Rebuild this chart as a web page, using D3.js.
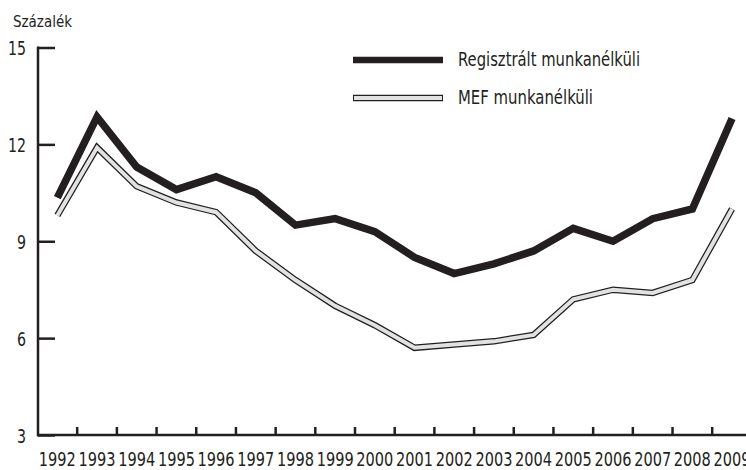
<!DOCTYPE html>
<html><head><meta charset="utf-8">
<script src="https://cdn.jsdelivr.net/npm/d3@7"></script>
<style>
html,body{margin:0;padding:0;background:#fff;}
text{font-family:"DejaVu Sans","Liberation Sans",sans-serif;font-stretch:condensed;fill:#231f20;}
</style></head>
<body>
<svg id="c" width="746" height="470"></svg>
<script>
const years = ["1992","1993","1994","1995","1996","1997","1998","1999","2000","2001","2002","2003","2004","2005","2006","2007","2008","2009"];
const registered = [10.35,12.85,11.3,10.6,11.0,10.5,9.5,9.7,9.3,8.5,8.0,8.3,8.7,9.4,9.0,9.7,10.0,12.8];
const mef = [9.8,11.9,10.7,10.2,9.9,8.7,7.8,7.0,6.4,5.7,5.8,5.9,6.1,7.2,7.5,7.4,7.8,10.0];
const yTicks = [3,6,9,12,15];
const seriesNames = ["Regisztrált munkanélküli","MEF munkanélküli"];
const yTitle = "Százalék";

const svg = d3.select("#c");
const ink = "#231f20";
const x = d3.scaleBand().domain(years).range([37.5, 751.9]);
const y = d3.scaleLinear().domain([3,15]).range([435, 47.5]);
const cx = d => x(d) + x.bandwidth()/2;

function fit(sel, w){ sel.attr("textLength", w).attr("lengthAdjust","spacingAndGlyphs"); return sel; }

// y title
fit(svg.append("text").attr("x",13).attr("y",27).attr("font-size",16).text(yTitle), 59);

// y axis
const gy = svg.append("g").attr("transform","translate(38,0)")
  .call(d3.axisRight(y).tickValues(yTicks).tickSize(17).tickFormat(""));
gy.select(".domain").remove();
gy.selectAll(".tick line").attr("stroke",ink).attr("stroke-width",2.5);
svg.append("line").attr("x1",38).attr("x2",38).attr("y1",y(15)-1).attr("y2",y(3)+1.2)
  .attr("stroke",ink).attr("stroke-width",2.5);
const yl = svg.selectAll(".ylab").data(yTicks).enter().append("text")
  .attr("x",26).attr("y",d=>y(d)+7.5).attr("text-anchor","end").attr("font-size",20).text(d=>d);
yl.filter(d=>d>=10).call(s=>fit(s,18));
yl.filter(d=>d<10).call(s=>fit(s,9));

// x axis
svg.append("line").attr("x1",37).attr("x2",752).attr("y1",y(3)).attr("y2",y(3))
  .attr("stroke",ink).attr("stroke-width",2.5);
const inner = years.slice(1);
svg.selectAll(".xt").data(inner).enter().append("line")
  .attr("x1",d=>x(d)).attr("x2",d=>x(d)).attr("y1",y(3)).attr("y2",y(3)-8)
  .attr("stroke",ink).attr("stroke-width",2.5);
svg.selectAll(".xlab").data(years).enter().append("text")
  .attr("x",d=>cx(d)).attr("y",466).attr("text-anchor","middle").attr("font-size",19).text(d=>d)
  .call(s=>fit(s,37));

const line = d3.line().x((d,i)=>cx(years[i])).y(d=>y(d));

// MEF line (outlined light grey)
svg.append("path").datum(mef).attr("d",line).attr("fill","none")
  .attr("stroke",ink).attr("stroke-width",6.5).attr("stroke-linejoin","miter");
svg.append("path").datum(mef).attr("d",line).attr("fill","none")
  .attr("stroke","#e2e2e2").attr("stroke-width",4).attr("stroke-linejoin","miter");
// Registered line
svg.append("path").datum(registered).attr("d",line).attr("fill","none")
  .attr("stroke",ink).attr("stroke-width",7.5).attr("stroke-linejoin","miter");

// legend
svg.append("line").attr("x1",353).attr("x2",443).attr("y1",60).attr("y2",60)
  .attr("stroke",ink).attr("stroke-width",6.5);
svg.append("line").attr("x1",353).attr("x2",443).attr("y1",98).attr("y2",98)
  .attr("stroke",ink).attr("stroke-width",6.5);
svg.append("line").attr("x1",354).attr("x2",442).attr("y1",98).attr("y2",98)
  .attr("stroke","#e2e2e2").attr("stroke-width",4);
fit(svg.append("text").attr("x",458).attr("y",66).attr("font-size",20).text(seriesNames[0]),182);
fit(svg.append("text").attr("x",458).attr("y",104).attr("font-size",20).text(seriesNames[1]),135);
</script>
</body></html>
